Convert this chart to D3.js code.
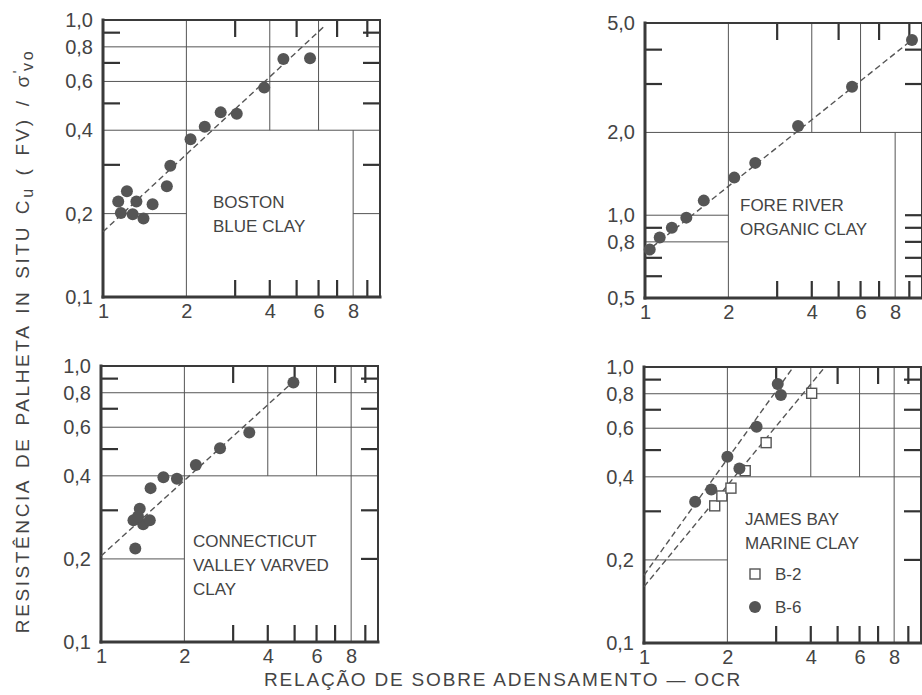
<!DOCTYPE html>
<html lang="pt">
<head>
<meta charset="utf-8">
<title>Resistência de palheta x OCR</title>
<script src="https://cdnjs.cloudflare.com/ajax/libs/d3/7.8.5/d3.min.js"></script>
<style>
  body { margin:0; background:#fff; }
  svg { display:block; font-family:"Liberation Sans", Arial, sans-serif; }
  .frame { stroke:#3a3a3a; stroke-linecap:square; }
  .grid line { stroke:#555; stroke-width:1; }
  .labels path, .labels line { display:none; }
  .labels text { font-size:20px; fill:#444; font-family:"Liberation Sans", Arial, sans-serif; }
  .name { font-size:17px; fill:#444; }
  .fit { fill:none; stroke:#555; stroke-width:1.4; stroke-dasharray:6 3.5; }
  .pt { fill:#555; }
  .sq { fill:#fff; stroke:#555; stroke-width:1.4; }
  .title { font-size:19px; fill:#444; }
</style>
</head>
<body>
<svg id="chart" width="922" height="695"></svg>
<script>
// ---- data ----
// Boston Blue Clay
var bostonOcr = [1.135, 1.22, 1.16, 1.32, 1.28, 1.40, 1.51, 1.70, 1.75, 2.07, 2.33, 2.66, 3.04, 3.82, 4.48, 5.59];
var bostonSu  = [0.221, 0.241, 0.201, 0.221, 0.199, 0.192, 0.216, 0.251, 0.298, 0.371, 0.412, 0.464, 0.459, 0.570, 0.723, 0.727];
var bostonFitOcr = [1, 6.3];
var bostonFitSu  = [0.172, 0.95];

// Fore River Organic Clay
var foreOcr = [1.04, 1.13, 1.25, 1.41, 1.63, 2.10, 2.50, 3.57, 5.59, 9.2];
var foreSu  = [0.75, 0.83, 0.90, 0.98, 1.13, 1.37, 1.55, 2.11, 2.93, 4.34];
var foreFitOcr = [1, 9.2];
var foreFitSu  = [0.73, 4.34];

// Connecticut Valley Varved Clay
var connOcr = [1.33, 1.31, 1.38, 1.42, 1.50, 1.36, 1.51, 1.68, 1.88, 2.20, 2.69, 3.43, 4.95];
var connSu  = [0.218, 0.276, 0.304, 0.267, 0.276, 0.285, 0.361, 0.395, 0.390, 0.438, 0.503, 0.574, 0.871];
var connFitOcr = [1, 4.9];
var connFitSu  = [0.205, 0.87];

// James Bay Marine Clay
var jbB2Ocr = [1.80, 1.91, 2.06, 2.32, 2.76, 4.03];
var jbB2Su  = [0.314, 0.341, 0.364, 0.421, 0.532, 0.803];
var jbB6Ocr = [1.53, 1.75, 2.00, 2.21, 2.55, 3.04, 3.12];
var jbB6Su  = [0.325, 0.360, 0.473, 0.429, 0.608, 0.868, 0.792];
var jbB2FitOcr = [1, 4.5];
var jbB2FitSu  = [0.160, 1.0];
var jbB6FitOcr = [1, 3.46];
var jbB6FitSu  = [0.176, 1.0];

// tick labels
var xTickVals = [1, 2, 4, 6, 8];
var xTickLabels = ["1", "2", "4", "6", "8"];
var yTickVals01 = [1, 0.8, 0.6, 0.4, 0.2, 0.1];
var yTickLabels01 = ["1,0", "0,8", "0,6", "0,4", "0,2", "0,1"];
var yTickVals05 = [5, 2, 1, 0.8, 0.5];
var yTickLabels05 = ["5,0", "2,0", "1,0", "0,8", "0,5"];

function pairs(xs, ys) { return xs.map(function(x, i){ return [x, ys[i]]; }); }

var panels = [
  { box:[103, 380, 297, 20], yDom:[0.1, 1], yVals:yTickVals01, yLabs:yTickLabels01,
    hGrid:[[0.8,1,10],[0.6,1,10],[0.4,1,10],[0.2,1,2],[0.2,8,10]],
    vGrid:[[2,0.1,1],[4,0.4,1],[6,0.4,1],[8,0.1,0.4]],
    leftTicks:[0.3,0.5,0.7,0.9], rightTicks:[0.3,0.5,0.7,0.9],
    topTicks:[3,5,7,9], bottomTicks:[3,4,5,6,7,9],
    series:[{pts:pairs(bostonOcr, bostonSu), shape:"circle"}],
    fits:[pairs(bostonFitOcr, bostonFitSu)],
    name:["BOSTON", "BLUE CLAY"], nameAt:[213, 208] },
  { box:[645, 922, 298, 23], yDom:[0.5, 5], yVals:yTickVals05, yLabs:yTickLabels05,
    hGrid:[[2,1,10],[1,1,2],[0.8,1,2]],
    vGrid:[[2,0.5,5],[4,2,5],[6,2,5],[8,0.5,2]],
    leftTicks:[4,3,0.9,0.7,0.6], rightTicks:[4,3,1,0.9,0.8,0.7,0.6],
    topTicks:[3,5,7,9], bottomTicks:[3,4,5,6,7,9],
    series:[{pts:pairs(foreOcr, foreSu), shape:"circle"}],
    fits:[pairs(foreFitOcr, foreFitSu)],
    name:["FORE RIVER", "ORGANIC CLAY"], nameAt:[740, 211] },
  { box:[101, 378, 642, 366], yDom:[0.1, 1], yVals:yTickVals01, yLabs:yTickLabels01,
    hGrid:[[0.8,1,10],[0.6,1,10],[0.4,1,10],[0.2,1,2]],
    vGrid:[[2,0.1,1],[4,0.4,1],[6,0.4,1],[8,0.1,1]],
    leftTicks:[0.3,0.5,0.7,0.9], rightTicks:[0.2,0.3,0.5,0.7,0.9],
    topTicks:[3,5,7,9], bottomTicks:[3,4,5,6,7,9],
    series:[{pts:pairs(connOcr, connSu), shape:"circle"}],
    fits:[pairs(connFitOcr, connFitSu)],
    name:["CONNECTICUT", "VALLEY VARVED", "CLAY"], nameAt:[193, 547] },
  { box:[644, 921, 643, 367], yDom:[0.1, 1], yVals:yTickVals01, yLabs:yTickLabels01,
    hGrid:[[0.8,1,10],[0.6,1,10],[0.4,1,10],[0.2,1,2]],
    vGrid:[[2,0.1,1],[4,0.4,1],[6,0.4,1],[8,0.1,1]],
    leftTicks:[0.3,0.5,0.7,0.9], rightTicks:[0.2,0.3,0.5,0.7,0.9],
    topTicks:[3,5,7,9], bottomTicks:[3,4,5,6,7,9],
    series:[{pts:pairs(jbB2Ocr, jbB2Su), shape:"square"}, {pts:pairs(jbB6Ocr, jbB6Su), shape:"circle"}],
    fits:[pairs(jbB6FitOcr, jbB6FitSu), pairs(jbB2FitOcr, jbB2FitSu)],
    name:["JAMES BAY", "MARINE CLAY"], nameAt:[745, 525], legend:true }
];

var svg = d3.select("#chart");
var tickLen = 17;

panels.forEach(function(p) {
  var x = d3.scaleLog().domain([1, 10]).range([p.box[0], p.box[1]]);
  var y = d3.scaleLog().domain(p.yDom).range([p.box[2], p.box[3]]);
  var g = svg.append("g");
  var xL = x(1), xR = x(10), yB = y(p.yDom[0]), yT = y(p.yDom[1]);

  // grid segments
  var grid = g.append("g").attr("class", "grid");
  p.hGrid.forEach(function(s) {
    grid.append("line").attr("x1", x(s[1])).attr("x2", x(s[2])).attr("y1", y(s[0])).attr("y2", y(s[0]));
  });
  p.vGrid.forEach(function(s) {
    grid.append("line").attr("x1", x(s[0])).attr("x2", x(s[0])).attr("y1", y(s[1])).attr("y2", y(s[2]));
  });

  // short inward ticks on all four sides
  var tk = g.append("g").attr("stroke", "#333").attr("stroke-width", 2.2);
  tk.selectAll(null).data(p.leftTicks).enter().append("line")
    .attr("x1", xL).attr("x2", xL + tickLen).attr("y1", y).attr("y2", y);
  tk.selectAll(null).data(p.rightTicks).enter().append("line")
    .attr("x1", xR - tickLen).attr("x2", xR).attr("y1", y).attr("y2", y);
  tk.selectAll(null).data(p.topTicks).enter().append("line")
    .attr("x1", x).attr("x2", x).attr("y1", yT).attr("y2", yT + tickLen);
  tk.selectAll(null).data(p.bottomTicks).enter().append("line")
    .attr("x1", x).attr("x2", x).attr("y1", yB - tickLen).attr("y2", yB);

  // frame
  g.append("line").attr("class", "frame").attr("stroke-width", 2)
    .attr("x1", xL).attr("x2", xR).attr("y1", yT).attr("y2", yT);
  g.append("line").attr("class", "frame").attr("stroke-width", 2)
    .attr("x1", xR).attr("x2", xR).attr("y1", yB).attr("y2", yT);
  g.append("line").attr("class", "frame").attr("stroke-width", 3)
    .attr("x1", xL).attr("x2", xL).attr("y1", yB).attr("y2", yT);
  g.append("line").attr("class", "frame").attr("stroke-width", 3)
    .attr("x1", xL).attr("x2", xR).attr("y1", yB).attr("y2", yB);

  // tick labels
  g.append("g").attr("class", "labels").attr("transform", "translate(" + p.box[0] + ",0)")
    .call(d3.axisLeft(y).tickValues(p.yVals).tickSize(0).tickPadding(10)
      .tickFormat(function(d, i){ return p.yLabs[i]; }));
  g.append("g").attr("class", "labels").attr("transform", "translate(0," + (p.box[2] + 3) + ")")
    .call(d3.axisBottom(x).tickValues(xTickVals).tickSize(0).tickPadding(4)
      .tickFormat(function(d, i){ return xTickLabels[i]; }));

  // fit lines
  var line = d3.line().x(function(d){ return x(d[0]); }).y(function(d){ return y(d[1]); });
  p.fits.forEach(function(f) {
    g.append("path").attr("class", "fit").attr("d", line(f));
  });

  // points
  p.series.forEach(function(s) {
    if (s.shape === "circle") {
      g.selectAll(null).data(s.pts).enter().append("circle").attr("class", "pt")
        .attr("cx", function(d){ return x(d[0]); }).attr("cy", function(d){ return y(d[1]); }).attr("r", 6);
    } else {
      g.selectAll(null).data(s.pts).enter().append("rect").attr("class", "sq")
        .attr("x", function(d){ return x(d[0]) - 5; }).attr("y", function(d){ return y(d[1]) - 5; })
        .attr("width", 10).attr("height", 10);
    }
  });

  // panel name
  var t = g.append("text").attr("class", "name").attr("x", p.nameAt[0]).attr("y", p.nameAt[1]);
  p.name.forEach(function(s, i) {
    t.append("tspan").attr("x", p.nameAt[0]).attr("dy", i ? 24 : 0).text(s);
  });

  if (p.legend) {
    var lg = g.append("g").attr("class", "name");
    lg.append("rect").attr("class", "sq").attr("x", 750).attr("y", 569).attr("width", 10).attr("height", 10);
    lg.append("text").attr("x", 775).attr("y", 580).text("B-2");
    lg.append("circle").attr("class", "pt").attr("cx", 755).attr("cy", 607).attr("r", 6);
    lg.append("text").attr("x", 775).attr("y", 613).text("B-6");
  }
});

// axis titles
var yt = svg.append("text").attr("class", "title").attr("letter-spacing", 2.6).attr("word-spacing", 3)
  .attr("transform", "translate(29,341) rotate(-90)").attr("text-anchor", "middle");
yt.append("tspan").text("RESISTÊNCIA DE PALHETA IN SITU  C");
yt.append("tspan").attr("dy", 4).attr("font-size", 16).text("u");
yt.append("tspan").attr("dy", -4).text(" ( FV) / σ");
yt.append("tspan").attr("dy", -6).attr("font-size", 14).text("'");
yt.append("tspan").attr("dx", -3).attr("dy", 10).attr("font-size", 16).text("vo");

svg.append("text").attr("class", "title").attr("x", 503).attr("y", 686)
  .attr("text-anchor", "middle").attr("font-size", 20).attr("letter-spacing", 1.8)
  .text("RELAÇÃO DE SOBRE ADENSAMENTO — OCR");
</script>
</body>
</html>
